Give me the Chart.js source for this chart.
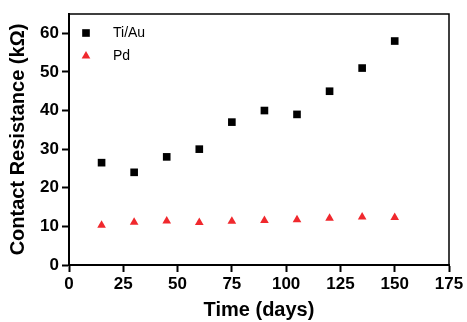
<!DOCTYPE html>
<html>
<head>
<meta charset="utf-8">
<script src="https://cdn.jsdelivr.net/npm/chart.js@4"></script>
<style>
  body { margin: 0; background: #fff; }
</style>
</head>
<body>
<canvas id="chart" width="467" height="322"></canvas>
<script>
const days = [15, 30, 45, 60, 75, 90, 105, 120, 135, 150];
const tiAu = [26.5, 24, 28, 30, 37, 40, 39, 45, 51, 58];
const pd = [10.3, 11.1, 11.4, 11.0, 11.3, 11.5, 11.7, 12.1, 12.4, 12.3];

const font = "Arial, 'Liberation Sans', sans-serif";

// box around the plot (top and right edges) + legend in the top-left corner
const frame = {
    id: "frame",
    afterDraw(chart) {
        const { ctx, chartArea: a } = chart;
        ctx.save();
        ctx.strokeStyle = "#000";
        ctx.lineWidth = 1.5;
        ctx.beginPath();
        ctx.moveTo(a.left, a.top);
        ctx.lineTo(a.right, a.top);
        ctx.lineTo(a.right, a.bottom);
        ctx.stroke();

        ctx.font = "14px " + font;
        ctx.textBaseline = "middle";
        chart.data.datasets.forEach((ds, i) => {
            const y = a.top + 19 + i * 23;
            ctx.fillStyle = ds.backgroundColor;
            Chart.helpers.drawPoint(ctx, {
                pointStyle: ds.pointStyle,
                radius: ds.pointRadius,
                rotation: 0,
                borderWidth: 0,
            }, a.left + 17, y);
            ctx.fillStyle = "#000";
            ctx.fillText(ds.label, a.left + 44, y);
        });
        ctx.restore();
    }
};

const pts = (ys) => days.map((d, i) => ({ x: d, y: ys[i] }));

new Chart(document.getElementById("chart").getContext("2d"), {
    type: "scatter",
    data: {
        datasets: [
            {
                label: "Ti/Au",
                data: pts(tiAu),
                pointStyle: "rect",
                pointRadius: 5.4,
                backgroundColor: "#000",
                borderColor: "#000",
                borderWidth: 0,
            },
            {
                label: "Pd",
                data: pts(pd),
                pointStyle: "triangle",
                pointRadius: 5,
                backgroundColor: "#f0282d",
                borderColor: "#f0282d",
                borderWidth: 0,
            },
        ],
    },
    options: {
        responsive: false,
        animation: false,
        layout: { padding: { top: 14, right: 18, left: 0, bottom: 0 } },
        plugins: {
            tooltip: { enabled: false },
            legend: { display: false },
        },
        scales: {
            x: {
                type: "linear",
                min: 0,
                max: 175,
                afterFit: (s) => { s.height = 57; },
                ticks: {
                    stepSize: 25,
                    color: "#000",
                    padding: 2,
                    font: { family: font, size: 17, weight: "bold" },
                },
                grid: { drawOnChartArea: false, tickLength: 7, tickWidth: 2, tickColor: "#000" },
                border: { color: "#000", width: 2 },
                title: {
                    display: true,
                    text: "Time (days)",
                    color: "#000",
                    padding: 0,
                    font: { family: font, size: 20, weight: "bold" },
                },
            },
            y: {
                min: 0,
                max: 65,
                afterFit: (s) => { s.width = 69; },
                afterBuildTicks: (s) => { s.ticks = [0, 10, 20, 30, 40, 50, 60].map((v) => ({ value: v })); },
                ticks: {
                    color: "#000",
                    padding: 3,
                    font: { family: font, size: 17, weight: "bold" },
                },
                grid: { drawOnChartArea: false, tickLength: 7, tickWidth: 2, tickColor: "#000" },
                border: { color: "#000", width: 2 },
                title: {
                    display: true,
                    text: "Contact Resistance (kΩ)",
                    color: "#000",
                    padding: { top: 6, bottom: 0 },
                    font: { family: font, size: 20, weight: "bold" },
                },
            },
        },
    },
    plugins: [frame],
});
</script>
</body>
</html>
